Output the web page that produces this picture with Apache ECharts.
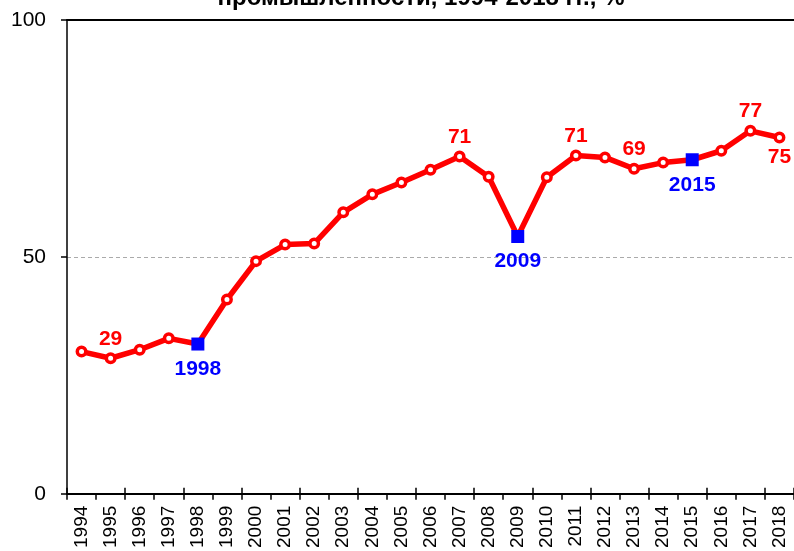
<!DOCTYPE html>
<html>
<head>
<meta charset="utf-8">
<script src="https://cdn.jsdelivr.net/npm/echarts@6/dist/echarts.min.js"></script>
<style>
  html, body { margin: 0; padding: 0; background: #fff; }
  #chart { width: 794px; height: 551px; }
</style>
</head>
<body>
<div id="chart"></div>
<script>
// years on the x axis
var years = ['1994', '1995', '1996', '1997', '1998', '1999', '2000', '2001', '2002', '2003',
  '2004', '2005', '2006', '2007', '2008', '2009', '2010', '2011', '2012', '2013',
  '2014', '2015', '2016', '2017', '2018']
// capacity utilisation, %
var utilization = [30, 28.6, 30.4, 32.8, 31.6, 41, 49.1, 52.6, 52.8, 59.4,
  63.2, 65.7, 68.4, 71.2, 66.9, 54.3, 66.8, 71.4, 71, 68.6,
  69.9, 70.5, 72.4, 76.6, 75.2]
// red value labels
var labelYears = ['1995', '2007', '2011', '2013', '2017', '2018']
var labelTexts = ['29', '71', '71', '69', '77', '75']
var labelsBelow = ['2018']
// blue square years
var markedYears = ['1998', '2009', '2015']
var yTicks = [0, 50, 100]

var red = '#ff0000'
var blue = '#0000ff'

var seriesData = years.map(function (year, i) {
  var item = { value: utilization[i] }
  var li = labelYears.indexOf(year)
  if (markedYears.indexOf(year) >= 0) {
    item.symbol = 'rect'
    item.symbolSize = 13
    item.itemStyle = { color: blue, borderWidth: 0 }
    item.label = {
      show: true,
      position: 'bottom',
      distance: 8,
      formatter: year,
      color: blue
    }
  } else if (li >= 0) {
    item.label = {
      show: true,
      position: labelsBelow.indexOf(year) >= 0 ? 'bottom' : 'top',
      distance: 3,
      formatter: labelTexts[li],
      color: red
    }
  }
  return item
})

var chart = echarts.init(document.getElementById('chart'))
var option = {
  animation: false,
  backgroundColor: '#fff',
  textStyle: { fontFamily: 'Liberation Sans, Arial, sans-serif' },
  title: {
    text: 'промышленности, 1994-2018 гг., %',
    left: 416,
    top: -19,
    textAlign: 'center',
    textStyle: { fontSize: 24, fontWeight: 'bold', color: '#000', fontFamily: 'Liberation Sans, Arial, sans-serif' }
  },
  grid: { left: 67, right: -2, top: 20, bottom: 56, containLabel: false },
  xAxis: [
    {
      type: 'category',
      data: years,
      position: 'bottom',
      boundaryGap: true,
      axisLine: { lineStyle: { color: '#000', width: 2 } },
      axisTick: { show: true, length: 6, lineStyle: { color: '#000', width: 1.5 } },
      axisLabel: { rotate: 90, fontSize: 19, color: '#000', margin: 12, interval: 0 },
      splitLine: { show: false }
    },
    {
      type: 'category',
      data: years,
      position: 'bottom',
      boundaryGap: true,
      axisLine: { show: false },
      axisTick: { show: true, inside: true, length: 6, lineStyle: { color: '#000', width: 1.5 } },
      axisLabel: { show: false },
      splitLine: { show: false }
    },
    {
      type: 'category',
      data: years,
      position: 'top',
      axisLine: { lineStyle: { color: '#000', width: 2 } },
      axisTick: { show: false },
      axisLabel: { show: false },
      splitLine: { show: false }
    }
  ],
  yAxis: {
    type: 'value',
    min: yTicks[0],
    max: yTicks[yTicks.length - 1],
    interval: yTicks[1] - yTicks[0],
    axisLine: { show: true, lineStyle: { color: '#000', width: 1.5 } },
    axisTick: { show: true, length: 6, lineStyle: { color: '#000', width: 1.5 } },
    axisLabel: { fontSize: 21, color: '#000', margin: 21 },
    splitLine: { show: true, lineStyle: { color: '#aaa', type: [4, 3], width: 1 } }
  },
  series: [{
    type: 'line',
    data: seriesData,
    symbol: 'circle',
    symbolSize: 8.5,
    showAllSymbol: true,
    lineStyle: { color: red, width: 5.5 },
    itemStyle: { color: '#fff', borderColor: red, borderWidth: 3.5 },
    label: { fontSize: 21, fontWeight: 'bold' },
    z: 5
  }]
}
chart.setOption(option)
</script>
</body>
</html>
